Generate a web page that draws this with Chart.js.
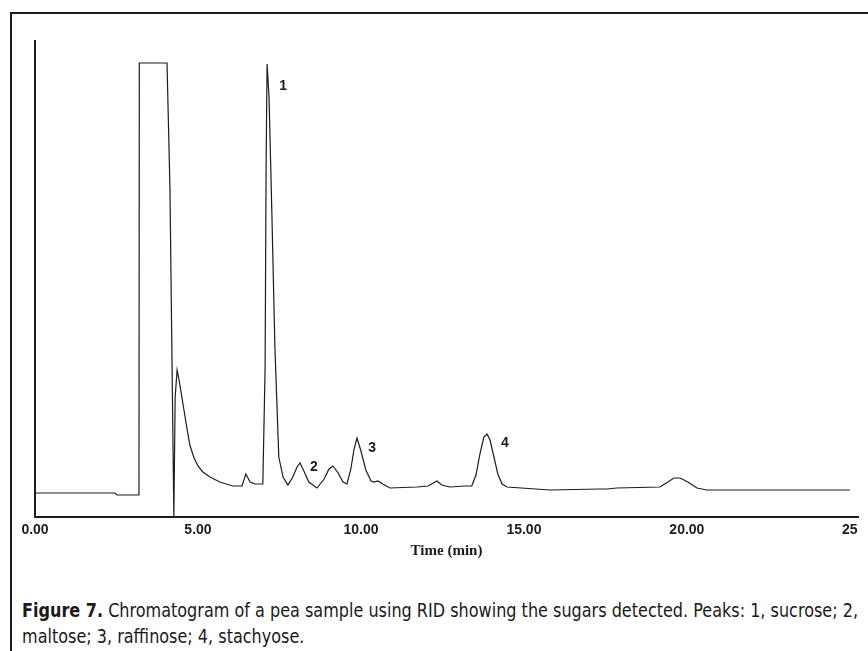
<!DOCTYPE html>
<html>
<head>
<meta charset="utf-8">
<script src="https://cdn.jsdelivr.net/npm/chart.js@4.4.1/dist/chart.umd.min.js"></script>
<style>
  html, body { margin: 0; padding: 0; background: #fff; }
  #page { position: relative; width: 868px; height: 651px; overflow: hidden; }
  #frame { position: absolute; left: 10px; top: 12px; right: -4px; bottom: -4px;
           border-top: 2px solid #1c1c1c; border-left: 2px solid #1c1c1c; }
  #box { position: absolute; left: 0; top: 0; width: 868px; height: 560px; }
  #caption { position: absolute; left: 22px; top: 597px;
             font-family: "Liberation Sans Narrow", "DejaVu Sans Condensed", "DejaVu Sans", sans-serif;
             font-stretch: condensed; font-size: 19px; line-height: 26px; color: #1a1a1a;
             white-space: nowrap; transform-origin: 0 0; }
  #caption b { font-weight: bold; }
</style>
</head>
<body>
<div id="page">
  <div id="frame"></div>
  <div id="box"><canvas id="chromChart"></canvas></div>
  <div id="caption"><span id="capLine1"><b>Figure 7.</b> Chromatogram of a pea sample using RID showing the sugars detected. Peaks: 1, sucrose; 2,</span><br>maltose; 3, raffinose; 4, stachyose.</div>
</div>
<script>
// retention time (min) and detector response (arbitrary units)
var times = [0, 2.45, 2.52, 3.19, 3.20, 4.05, 4.14, 4.26, 4.30, 4.36, 4.42, 4.48, 4.57, 4.66, 4.75,
  4.88, 5.00, 5.15, 5.37, 5.67, 6.07, 6.35, 6.47, 6.60, 6.75, 6.99, 7.06, 7.09, 7.12, 7.18,
  7.27, 7.36, 7.48, 7.61, 7.76, 7.91, 8.04, 8.13, 8.25, 8.40, 8.65, 8.87, 9.02, 9.14, 9.30,
  9.45, 9.57, 9.69, 9.79, 9.88, 10.00, 10.15, 10.31, 10.40, 10.52, 10.67, 10.89, 11.72, 12.06,
  12.33, 12.48, 12.73, 13.19, 13.40, 13.53, 13.65, 13.77, 13.87, 13.96, 14.08, 14.20, 14.33,
  14.48, 15.80, 17.33, 17.55, 17.85, 19.17, 19.42, 19.60, 19.79, 20.03, 20.31, 20.61, 25.00];
var signal = [24, 24, 22, 22, 454, 454, 330, 0, 120, 147, 137, 125, 107, 89, 72,
  59, 51, 45, 40, 35, 31, 31, 43, 35, 33, 33, 150, 350, 453, 420,
  300, 170, 60, 40, 32, 40, 50, 54, 46, 35, 29, 38, 48, 51, 44,
  35, 33, 48, 68, 79, 66, 47, 36, 35, 36, 33, 29, 30, 31,
  36, 32, 30, 31, 31, 42, 63, 80, 83, 77, 60, 43, 33,
  30, 27, 28, 28, 29, 30, 35, 39, 39, 35, 29, 27, 27];

var tickValues = [0, 5, 10, 15, 20, 25];
var tickLabels = ['0.00', '5.00', '10.00', '15.00', '20.00', '25'];

var peakNames = ['1', '2', '3', '4'];
var peakTimes = [7.61, 8.56, 10.34, 14.42];
var peakLevels = [431, 50, 69, 74];

var ink = '#1c1c1c';

var points = times.map(function(t, i) { return { x: t, y: signal[i] }; });

/* Plugin: peak number labels */
var peakLabelPlugin = {
  id: 'peakLabels',
  afterDatasetsDraw: function(chart) {
    var c = chart.ctx;
    var xs = chart.scales.x, ys = chart.scales.y;
    c.save();
    c.fillStyle = ink;
    c.font = 'bold 14px "Liberation Sans", Arial, sans-serif';
    c.textAlign = 'center';
    c.textBaseline = 'middle';
    peakNames.forEach(function(name, i) {
      c.fillText(name, xs.getPixelForValue(peakTimes[i]), ys.getPixelForValue(peakLevels[i]));
    });
    c.restore();
  }
};

new Chart(document.getElementById('chromChart'), {
  type: 'line',
  data: {
    datasets: [{
      data: points,
      borderColor: ink,
      borderWidth: 1.2,
      pointRadius: 0,
      tension: 0,
      fill: false
    }]
  },
  options: {
    responsive: true,
    maintainAspectRatio: false,
    animation: false,
    layout: { padding: { left: 34, right: 10, top: 41, bottom: 0 } },
    plugins: { legend: { display: false }, tooltip: { enabled: false } },
    scales: {
      x: {
        type: 'linear',
        min: 0,
        max: 25.25,
        afterBuildTicks: function(axis) {
          axis.ticks = tickValues.map(function(v) { return { value: v }; });
        },
        grid: { display: false, drawOnChartArea: false, drawTicks: true, tickLength: 3, color: ink },
        border: { display: true, color: ink, width: 2 },
        ticks: {
          color: ink,
          padding: 2,
          maxRotation: 0,
          autoSkip: false,
          font: { size: 14, weight: 'bold', family: '"Liberation Sans", Arial, sans-serif' },
          callback: function(value) {
            var i = tickValues.indexOf(value);
            return i >= 0 ? tickLabels[i] : '';
          }
        },
        title: {
          display: true,
          text: 'Time (min)',
          color: ink,
          padding: { top: 5, bottom: 0 },
          font: { size: 15, weight: 'bold', family: '"Liberation Serif", "Times New Roman", serif' }
        },
        afterFit: function(axis) { axis.height = 43; }
      },
      y: {
        min: 0,
        max: 476,
        grid: { display: false },
        border: { display: true, color: ink, width: 2 },
        ticks: { display: false },
        afterFit: function(axis) { axis.width = 1; }
      }
    }
  },
  plugins: [peakLabelPlugin]
});

/* squeeze caption so the first line spans the frame like the printed one */
var cap = document.getElementById('caption');
var w = document.getElementById('capLine1').getBoundingClientRect().width;
cap.style.transform = 'scaleX(' + (836 / w) + ')';
</script>
</body>
</html>
